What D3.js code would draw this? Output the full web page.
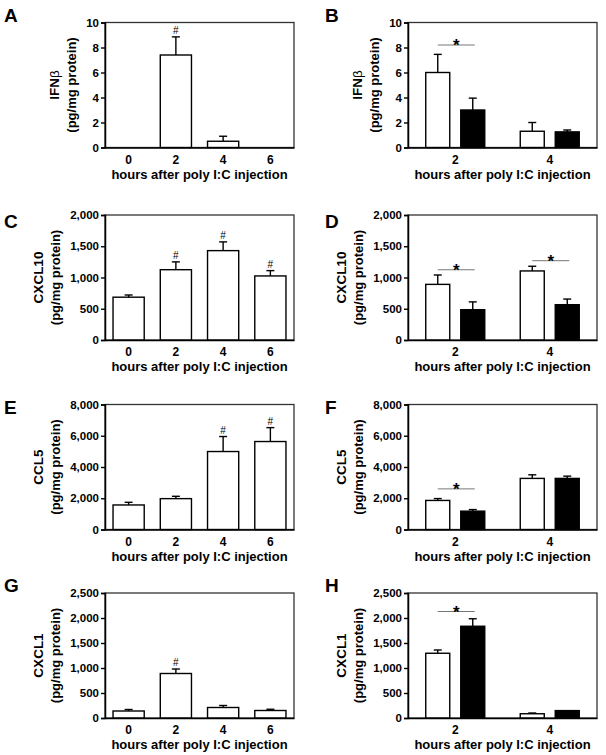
<!DOCTYPE html>
<meta charset="utf-8">
<script src="https://d3js.org/d3.v7.min.js"></script>
<style>
  body { margin: 0; background: #fff; }
  text { font-family: "Liberation Sans", Arial, sans-serif; }
</style>

<div id="my_dataviz"></div>

<script>
  var width = 606
  var height = 755

  // x categories
  var hoursTime = ["0", "2", "4", "6"]
  var hoursGroup = ["2", "4"]
  var groups = ["open", "filled"]

  // A - IFNb time course
  var ifnbTime = [0, 7.4, 0.5, 0]
  var ifnbTimeErr = [0, 1.45, 0.4, 0]
  var ifnbTimeHash = [false, true, false, false]
  // B - IFNb open vs filled
  var ifnbOpen = [6.0, 1.3]
  var ifnbOpenErr = [1.45, 0.7]
  var ifnbFilled = [3.0, 1.25]
  var ifnbFilledErr = [0.95, 0.15]
  var ifnbSig = [8.2, null]

  // C - CXCL10 time course
  var cxcl10Time = [685, 1125, 1430, 1025]
  var cxcl10TimeErr = [35, 125, 140, 85]
  var cxcl10TimeHash = [false, true, true, true]
  // D
  var cxcl10Open = [890, 1105]
  var cxcl10OpenErr = [150, 75]
  var cxcl10Filled = [485, 565]
  var cxcl10FilledErr = [125, 90]
  var cxcl10Sig = [1124, 1269]

  // E - CCL5 time course
  var ccl5Time = [1570, 1975, 4990, 5630]
  var ccl5TimeErr = [170, 150, 960, 890]
  var ccl5TimeHash = [false, false, true, true]
  // F
  var ccl5Open = [1860, 3270]
  var ccl5OpenErr = [120, 230]
  var ccl5Filled = [1175, 3270]
  var ccl5FilledErr = [100, 145]
  var ccl5Sig = [2600, null]

  // G - CXCL1 time course
  var cxcl1Time = [140, 890, 210, 150]
  var cxcl1TimeErr = [30, 90, 40, 25]
  var cxcl1TimeHash = [false, true, false, false]
  // H
  var cxcl1Open = [1295, 85]
  var cxcl1OpenErr = [65, 15]
  var cxcl1Filled = [1835, 148]
  var cxcl1FilledErr = [150, 0]
  var cxcl1Sig = [2130, null]

  var xTitle = "hours after poly I:C injection"
  var yUnit = "(pg/mg protein)"

  // layout
  var rowTop = [22.5, 215, 404.5, 593]
  var colLeft = [105, 408]
  var plotW = 189
  var plotH = 125
  var letterX = [4, 325]
  var letterY = [22, 228, 414, 592]

  var svg = d3.select("#my_dataviz")
    .append("svg")
      .attr("width", width)
      .attr("height", height)

  svg.append("rect").attr("width", width).attr("height", height).attr("fill", "#fff")

  var panels = [
    { letter: "A", row: 0, col: 0, name: "IFN", greek: "\u03b2", max: 10, step: 2,
      values: ifnbTime, errs: ifnbTimeErr, hash: ifnbTimeHash },
    { letter: "B", row: 0, col: 1, name: "IFN", greek: "\u03b2", max: 10, step: 2,
      open: ifnbOpen, openErr: ifnbOpenErr, filled: ifnbFilled, filledErr: ifnbFilledErr, sig: ifnbSig },
    { letter: "C", row: 1, col: 0, name: "CXCL10", max: 2000, step: 500,
      values: cxcl10Time, errs: cxcl10TimeErr, hash: cxcl10TimeHash },
    { letter: "D", row: 1, col: 1, name: "CXCL10", max: 2000, step: 500,
      open: cxcl10Open, openErr: cxcl10OpenErr, filled: cxcl10Filled, filledErr: cxcl10FilledErr, sig: cxcl10Sig },
    { letter: "E", row: 2, col: 0, name: "CCL5", max: 8000, step: 2000,
      values: ccl5Time, errs: ccl5TimeErr, hash: ccl5TimeHash },
    { letter: "F", row: 2, col: 1, name: "CCL5", max: 8000, step: 2000,
      open: ccl5Open, openErr: ccl5OpenErr, filled: ccl5Filled, filledErr: ccl5FilledErr, sig: ccl5Sig },
    { letter: "G", row: 3, col: 0, name: "CXCL1", max: 2500, step: 500,
      values: cxcl1Time, errs: cxcl1TimeErr, hash: cxcl1TimeHash },
    { letter: "H", row: 3, col: 1, name: "CXCL1", max: 2500, step: 500,
      open: cxcl1Open, openErr: cxcl1OpenErr, filled: cxcl1Filled, filledErr: cxcl1FilledErr, sig: cxcl1Sig }
  ]

  function errorBar(g, cx, y0, y1) {
    if (y0 - y1 < 0.5) return
    g.append("line").attr("x1", cx).attr("x2", cx).attr("y1", y0).attr("y2", y1)
      .attr("stroke", "#000").attr("stroke-width", 1.4)
    g.append("line").attr("x1", cx - 4).attr("x2", cx + 4).attr("y1", y1).attr("y2", y1)
      .attr("stroke", "#000").attr("stroke-width", 1.4)
  }

  function drawPanel(p) {
    var g = svg.append("g")
      .attr("transform", "translate(" + colLeft[p.col] + "," + rowTop[p.row] + ")")

    var y = d3.scaleLinear().domain([0, p.max]).range([plotH, 0])

    // frame
    g.append("rect")
      .attr("width", plotW).attr("height", plotH)
      .attr("fill", "none").attr("stroke", "#333").attr("stroke-width", 1.3)

    var yAxis = g.append("g")
      .call(d3.axisLeft(y)
        .tickValues(d3.range(0, p.max + p.step / 2, p.step))
        .tickSize(4).tickPadding(2)
        .tickFormat(d3.format(",")))
    yAxis.select(".domain").attr("stroke-width", 1.5)
    yAxis.selectAll(".tick line").attr("stroke-width", 1.4)
    yAxis.selectAll("text")
      .attr("font-size", "11.5px").attr("font-weight", "bold").attr("fill", "#000")

    var xAxisScale
    if (p.values) {
      var x = d3.scaleBand().domain(hoursTime).range([0, plotW])
        .paddingInner(0.34).paddingOuter(0.17)
      xAxisScale = x
      var bars = g.append("g")
      hoursTime.forEach(function(h, i) {
        var v = p.values[i]
        if (v > 0) {
          bars.append("rect")
            .attr("x", x(h)).attr("y", y(v))
            .attr("width", x.bandwidth()).attr("height", plotH - y(v))
            .attr("fill", "#fff").attr("stroke", "#000").attr("stroke-width", 1.4)
        }
        var cx = x(h) + x.bandwidth() / 2
        errorBar(bars, cx, y(v), y(v + p.errs[i]))
        if (p.hash[i]) {
          bars.append("text")
            .attr("x", cx).attr("y", y(v + p.errs[i]) - 3)
            .attr("text-anchor", "middle")
            .attr("font-size", "10px")
            .text("#")
        }
      })
    } else {
      var x0 = d3.scaleBand().domain(hoursGroup).range([0, plotW])
      var x1 = d3.scaleBand().domain(groups).range([0, x0.bandwidth()])
        .paddingInner(0.314).paddingOuter(0.507)
      xAxisScale = x0
      var bars = g.append("g")
      hoursGroup.forEach(function(h, i) {
        var sets = [
          { key: "open", v: p.open[i], e: p.openErr[i], fill: "#fff" },
          { key: "filled", v: p.filled[i], e: p.filledErr[i], fill: "#000" }
        ]
        sets.forEach(function(s) {
          bars.append("rect")
            .attr("x", x0(h) + x1(s.key)).attr("y", y(s.v))
            .attr("width", x1.bandwidth()).attr("height", plotH - y(s.v))
            .attr("fill", s.fill).attr("stroke", "#000").attr("stroke-width", 1.4)
          errorBar(bars, x0(h) + x1(s.key) + x1.bandwidth() / 2, y(s.v), y(s.v + s.e))
        })
        if (p.sig[i] != null) {
          var xa = x0(h) + x1("open") + x1.bandwidth() / 2
          var xb = x0(h) + x1("filled") + x1.bandwidth() / 2 + 2
          var ys = y(p.sig[i])
          bars.append("line")
            .attr("x1", xa).attr("x2", xb).attr("y1", ys).attr("y2", ys)
            .attr("stroke", "#777").attr("stroke-width", 1)
          bars.append("text")
            .attr("x", (xa + xb) / 2).attr("y", ys + 6)
            .attr("text-anchor", "middle")
            .attr("font-size", "17px").attr("font-weight", "bold")
            .text("*")
        }
      })
    }

    var xAxis = g.append("g")
      .attr("transform", "translate(0," + plotH + ")")
      .call(d3.axisBottom(xAxisScale).tickSize(0).tickPadding(7.5))
    xAxis.select(".domain").attr("stroke-width", 1.5)
    xAxis.selectAll("text")
      .attr("font-size", "12px").attr("font-weight", "bold").attr("fill", "#000")

    g.append("text")
      .attr("x", plotW / 2).attr("y", plotH + 31)
      .attr("text-anchor", "middle")
      .attr("font-size", "13px").attr("font-weight", "bold")
      .text(xTitle)

    // y title, placed left of the widest tick label
    var maxW = 0
    yAxis.selectAll("text").each(function() {
      maxW = Math.max(maxW, this.getComputedTextLength())
    })
    var line2 = -(4 + 2 + maxW + 10)
    var line1 = line2 - 17

    var t1 = g.append("text")
      .attr("transform", "translate(" + line1 + "," + plotH / 2 + ") rotate(-90)")
      .attr("text-anchor", "middle")
      .attr("font-size", "13.5px").attr("font-weight", "bold")
    t1.append("tspan").text(p.name)
    if (p.greek) t1.append("tspan").attr("font-weight", "normal").text(p.greek)

    g.append("text")
      .attr("transform", "translate(" + line2 + "," + plotH / 2 + ") rotate(-90)")
      .attr("text-anchor", "middle")
      .attr("font-size", "13px").attr("font-weight", "bold")
      .text(yUnit)

    svg.append("text")
      .attr("x", letterX[p.col]).attr("y", letterY[p.row])
      .attr("font-size", "19px").attr("font-weight", "bold")
      .text(p.letter)
  }

  panels.forEach(drawPanel)
</script>
